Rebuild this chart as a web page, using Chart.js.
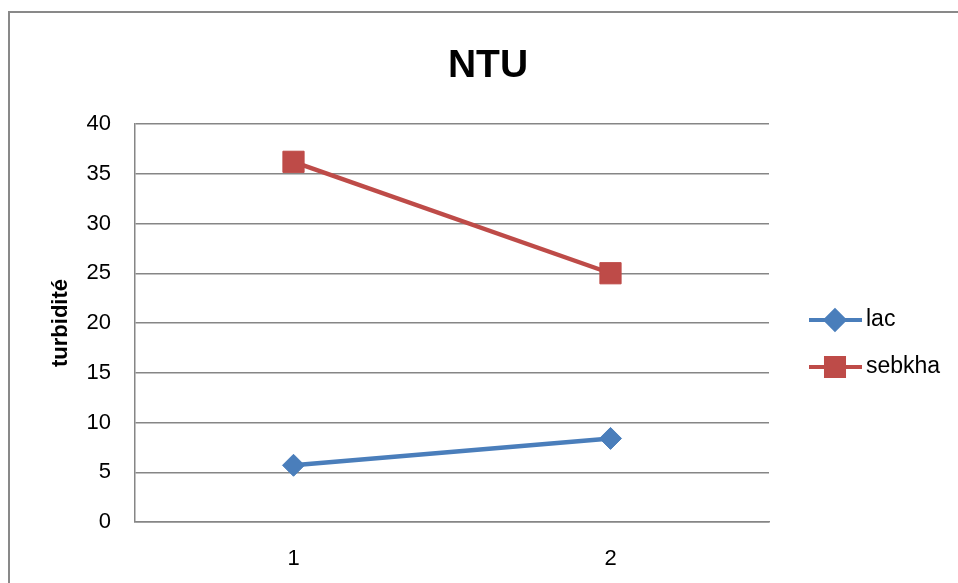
<!DOCTYPE html>
<html>
<head>
<meta charset="utf-8">
<script src="https://cdn.jsdelivr.net/npm/chart.js@4/dist/chart.umd.min.js"></script>
<style>
  html, body { margin: 0; padding: 0; background: #fff; overflow: hidden; }
  #wrap { position: relative; width: 958px; height: 583px; }
  #frame { position: absolute; left: 8px; top: 11px; width: 1000px; height: 700px; border: 2px solid #898989; box-sizing: border-box; }
  canvas { position: absolute; left: 0; top: 0; }
</style>
</head>
<body>
<div id="wrap">
  <div id="frame"></div>
  <canvas id="ntuChart" width="958" height="583"></canvas>
</div>
<script>
const categories = ['1', '2'];
const lacValues = [5.7, 8.4];
const sebkhaValues = [36.2, 25.0];
const yTicks = [0, 5, 10, 15, 20, 25, 30, 35, 40];

const FONT = '"Liberation Sans", Arial, sans-serif';

// Draw title and the line+marker legend at fixed spots (Excel style)
const excelDecor = {
  id: 'excelDecor',
  afterDraw(chart) {
    const ctx = chart.ctx;
    ctx.save();
    ctx.fillStyle = '#000';
    ctx.font = 'bold 39px ' + FONT;
    ctx.textAlign = 'center';
    ctx.textBaseline = 'middle';
    ctx.fillText('NTU', 488, 66);

    const rows = [320, 367];
    chart.data.datasets.forEach((ds, i) => {
      const y = rows[i];
      ctx.strokeStyle = ds.borderColor;
      ctx.lineWidth = 4;
      ctx.beginPath();
      ctx.moveTo(809, y);
      ctx.lineTo(862, y);
      ctx.stroke();
      ctx.fillStyle = ds.backgroundColor;
      ctx.strokeStyle = ds.borderColor;
      Chart.helpers.drawPoint(ctx, {
        pointStyle: ds.pointStyle,
        radius: ds.pointRadius * 0.85,
        borderWidth: 1
      }, 835, y);
      ctx.fillStyle = '#000';
      ctx.font = '23px ' + FONT;
      ctx.textAlign = 'left';
      ctx.fillText(ds.label, 866, y);
    });
    ctx.restore();
  }
};

new Chart(document.getElementById('ntuChart').getContext('2d'), {
  type: 'line',
  data: {
    labels: categories,
    datasets: [{
      label: 'lac',
      data: lacValues,
      borderColor: '#4A7EBB',
      backgroundColor: '#4A7EBB',
      borderWidth: 4.5,
      pointStyle: 'rectRot',
      pointRadius: 11,
      pointBorderWidth: 1
    }, {
      label: 'sebkha',
      data: sebkhaValues,
      borderColor: '#BE4B48',
      backgroundColor: '#BE4B48',
      borderWidth: 4.5,
      pointStyle: 'rect',
      pointRadius: 15,
      pointBorderWidth: 1
    }]
  },
  options: {
    responsive: false,
    animation: false,
    layout: { padding: { top: 124, right: 189, left: 0, bottom: 0 } },
    scales: {
      x: {
        offset: true,
        grid: { display: false, drawTicks: false },
        border: { color: '#868686', width: 1.5 },
        ticks: { color: '#000', padding: 24, font: { family: FONT, size: 22 } },
        afterFit: (axis) => { axis.height = 61; }
      },
      y: {
        min: 0,
        max: 40,
        afterBuildTicks: (axis) => { axis.ticks = yTicks.map(v => ({ value: v })); },
        grid: { color: '#868686', lineWidth: 1.5, drawTicks: false },
        border: { color: '#868686', width: 1.5 },
        ticks: { color: '#000', padding: 24, font: { family: FONT, size: 22 } },
        title: {
          display: true,
          text: 'turbidité',
          color: '#000',
          font: { family: FONT, size: 22, weight: 'bold' },
          padding: { top: 48, bottom: 0 }
        },
        afterFit: (axis) => { axis.width = 135; }
      }
    },
    plugins: {
      legend: { display: false },
      title: { display: false },
      tooltip: { enabled: false }
    }
  },
  plugins: [excelDecor]
});
</script>
</body>
</html>
